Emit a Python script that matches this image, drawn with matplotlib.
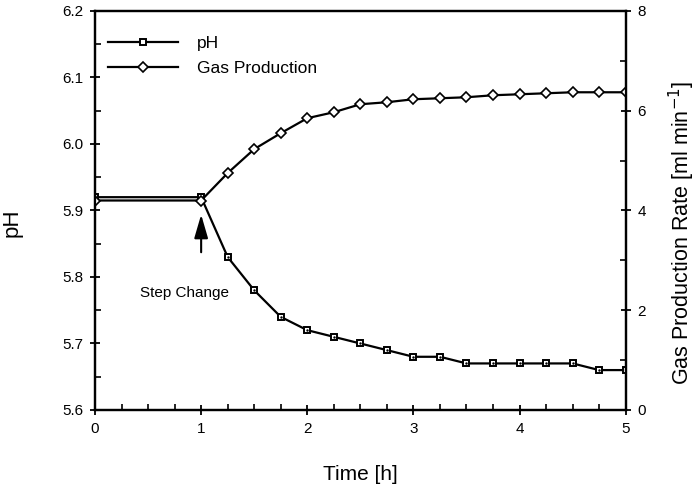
import numpy as np
import matplotlib.pyplot as plt
from matplotlib.ticker import MultipleLocator

# ---------------- dados ----------------
tempo = [0, 1, 1.25, 1.5, 1.75, 2, 2.25, 2.5, 2.75, 3, 3.25, 3.5, 3.75, 4, 4.25, 4.5, 4.75, 5]
ph = [5.92, 5.92, 5.83, 5.78, 5.74, 5.72, 5.71, 5.70, 5.69, 5.68, 5.68, 5.67, 5.67, 5.67,
      5.67, 5.67, 5.66, 5.66]
gas = [4.2, 4.2, 4.75, 5.23, 5.55, 5.85, 5.97, 6.13, 6.17, 6.23, 6.25, 6.27, 6.31, 6.33,
       6.35, 6.37, 6.37, 6.37]

plt.rcParams['font.family'] = ['Liberation Sans', 'DejaVu Sans']

fig = plt.figure(figsize=(6.96, 4.92), dpi=100)
ax = fig.add_axes([0.1365, 0.1667, 0.7625, 0.811])
ax2 = ax.twinx()

l1, = ax.plot(tempo, ph, color='black', lw=1.6, marker='s', ms=5, mfc='white',
              mec='black', mew=1.4, label='pH')
ax.plot(tempo, ph, ls='none', marker='.', ms=1.5, color='black')
l2, = ax2.plot(tempo, gas, color='black', lw=1.6, marker='D', ms=4.8, mfc='white',
               mec='black', mew=1.2, label='Gas Production')

ax.set_xlim(0, 5)
ax.set_ylim(5.6, 6.2)
ax2.set_ylim(0, 8)
ax.xaxis.set_major_locator(MultipleLocator(1))
ax.xaxis.set_minor_locator(MultipleLocator(0.25))
ax.yaxis.set_major_locator(MultipleLocator(0.1))
ax.yaxis.set_minor_locator(MultipleLocator(0.05))
ax2.yaxis.set_major_locator(MultipleLocator(2))
ax2.yaxis.set_minor_locator(MultipleLocator(1))
ax.yaxis.set_major_formatter(plt.FormatStrFormatter('%.1f'))

for a in (ax, ax2):
    a.tick_params(which='major', direction='inout', length=7, width=1.3, labelsize=11, pad=5)
    a.tick_params(which='minor', direction='in', length=4, width=1.2)
    for s in a.spines.values():
        s.set_linewidth(1.6)

ax.set_xlabel('Time [h]', fontsize=15)
ax.xaxis.set_label_coords(0.5, -0.138)
ax.set_ylabel('pH', fontsize=16)
ax.yaxis.set_label_coords(-0.136, 0.47)
ax2.set_ylabel('Gas Production Rate [ml min$^{-1}$]', fontsize=15.5)
ax2.yaxis.set_label_coords(1.078, 0.445)

ax.annotate('', xy=(1, 5.898), xytext=(1, 5.833),
            arrowprops=dict(arrowstyle='-|>,head_length=1.2,head_width=0.35', color='black',
                            lw=1.5, mutation_scale=12))
ax.text(0.42, 5.776, 'Step Change', fontsize=11, va='center')

ax.legend([l1, l2], ['pH', 'Gas Production'], loc='upper left', frameon=False,
          fontsize=12.5, handlelength=4.0, borderaxespad=0.0, handletextpad=1.1,
          labelspacing=0.55, bbox_to_anchor=(0.012, 0.955))

plt.savefig('out.png', dpi=100)
plt.close()
